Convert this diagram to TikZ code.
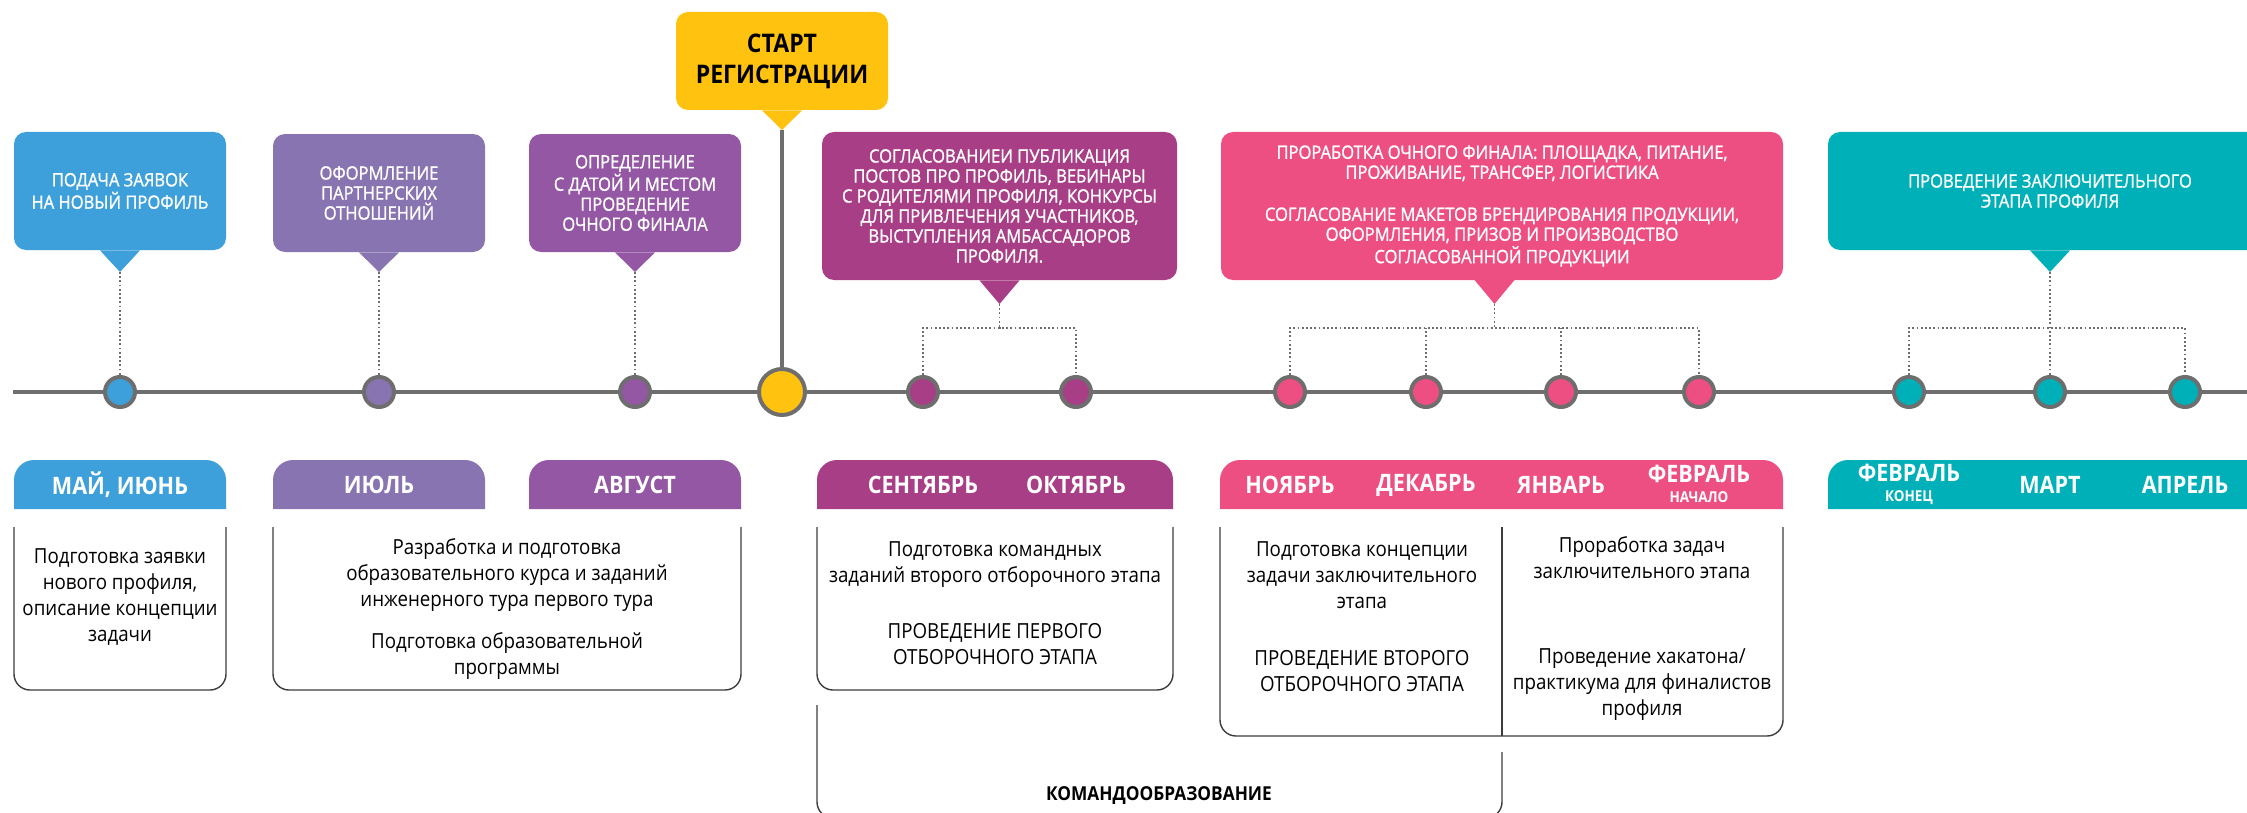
\documentclass[tikz,border=0pt]{standalone}
\usepackage{fontspec}
\setmainfont[FakeStretch=0.9]{Open Sans}
\newfontfamily\callfont[FakeStretch=0.9, FakeBold=1.2]{Open Sans}
\usepackage{tikz}
\usetikzlibrary{calc}
\usetikzlibrary{positioning}

\definecolor{tlgray}{RGB}{110,110,110}
\definecolor{bodyline}{RGB}{60,60,60}
\definecolor{cblue}{RGB}{62,160,219}
\definecolor{cpurple}{RGB}{136,116,176}
\definecolor{cviolet}{RGB}{147,87,163}
\definecolor{cmagenta}{RGB}{168,62,133}
\definecolor{cpink}{RGB}{238,79,130}
\definecolor{cteal}{RGB}{0,176,185}
\definecolor{cyellow}{RGB}{255,194,14}

\begin{document}
\begin{tikzpicture}[x=0.5pt, y=-0.5pt,
    every node/.style={inner sep=0pt},
    callbox/.style={fill=#1, rounded corners=6pt, text=white, align=center,
      font=\callfont\fontsize{9.2}{10}\selectfont},
    dot/.style={circle, fill=#1, draw=tlgray, line width=2pt, minimum size=15pt},
    link/.style={draw=tlgray, line width=0.9pt, dash pattern=on 0.9pt off 1.2pt},
    monthlabel/.style={text=white, align=center,
      font=\fontsize{12}{12}\bfseries\selectfont},
    body/.style={draw=bodyline, line width=0.7pt},
    bodytext/.style={align=center, font=\fontsize{10.4}{13}\selectfont}]

    \useasboundingbox (0,0) rectangle (2247,813);
    \clip (0,0) rectangle (2247,813);

    % timeline
    \coordinate (tlstart) at (13,392);
    \coordinate (tlend) at (2247,392);
    \draw [tlgray, line width=2pt] (tlstart) -- (tlend);

    % start of registration
    \node [callbox=cyellow, text=black, minimum width=106pt, minimum height=49pt,
      font=\fontsize{12.8}{15.5}\bfseries\selectfont]
      (start) at (782,61) {СТАРТ\\РЕГИСТРАЦИИ};
    \coordinate (starttip) at (782,130);
    \fill [cyellow] ($(start.south)+(-20,0)$) -- ($(start.south)+(20,0)$) -- (starttip) -- cycle;
    \node [dot=cyellow, minimum size=23pt] (dstart) at (782,392) {};
    \draw [tlgray, line width=2pt] (starttip) -- (dstart.north);

    % dots on the timeline
    \node [dot=cblue] (d1) at (120,392) {};
    \node [dot=cpurple] (d2) at (379,392) {};
    \node [dot=cviolet] (d3) at (635,392) {};
    \node [dot=cmagenta] (d5) at (923,392) {};
    \node [dot=cmagenta] (d6) at (1076,392) {};
    \node [dot=cpink] (d7) at (1290,392) {};
    \node [dot=cpink] (d8) at (1426,392) {};
    \node [dot=cpink] (d9) at (1561,392) {};
    \node [dot=cpink] (d10) at (1699,392) {};
    \node [dot=cteal] (d11) at (1909,392) {};
    \node [dot=cteal] (d12) at (2050,392) {};
    \node [dot=cteal] (d13) at (2185,392) {};

    % callouts above the line
    \node [callbox=cblue, minimum width=106pt, minimum height=59pt]
      (apply) at (120,191) {ПОДАЧА ЗАЯВОК\\НА НОВЫЙ ПРОФИЛЬ};
    \coordinate (applytip) at (120,272);
    \fill [cblue] ($(apply.south)+(-20,0)$) -- ($(apply.south)+(20,0)$) -- (applytip) -- cycle;
    \draw [link] (applytip) -- (d1.north);

    \node [callbox=cpurple, minimum width=106pt, minimum height=59pt]
      (partner) at (379,193) {ОФОРМЛЕНИЕ\\ПАРТНЕРСКИХ\\ОТНОШЕНИЙ};
    \coordinate (partnertip) at (379,272);
    \fill [cpurple] ($(partner.south)+(-20,0)$) -- ($(partner.south)+(20,0)$) -- (partnertip) -- cycle;
    \draw [link] (partnertip) -- (d2.north);

    \node [callbox=cviolet, minimum width=106pt, minimum height=59pt]
      (venue) at (635,193) {ОПРЕДЕЛЕНИЕ\\С ДАТОЙ И МЕСТОМ\\ПРОВЕДЕНИЕ\\ОЧНОГО ФИНАЛА};
    \coordinate (venuetip) at (635,272);
    \fill [cviolet] ($(venue.south)+(-20,0)$) -- ($(venue.south)+(20,0)$) -- (venuetip) -- cycle;
    \draw [link] (venuetip) -- (d3.north);

    \node [callbox=cmagenta, minimum width=177.5pt, minimum height=74pt]
      (promo) at (999.5,206) {СОГЛАСОВАНИЕИ ПУБЛИКАЦИЯ\\ПОСТОВ ПРО ПРОФИЛЬ, ВЕБИНАРЫ\\
      С РОДИТЕЛЯМИ ПРОФИЛЯ, КОНКУРСЫ\\ДЛЯ ПРИВЛЕЧЕНИЯ УЧАСТНИКОВ,\\
      ВЫСТУПЛЕНИЯ АМБАССАДОРОВ\\ПРОФИЛЯ.};
    \coordinate (promotip) at (999.5,304);
    \coordinate (promobar) at (999.5,328);
    \fill [cmagenta] ($(promo.south)+(-20,0)$) -- ($(promo.south)+(20,0)$) -- (promotip) -- cycle;
    \draw [link] (promotip) -- (promobar);
    \draw [link] (d5.north) |- (promobar) -| (d6.north);

    \node [callbox=cpink, minimum width=281pt, minimum height=74pt]
      (final) at (1502,206) {ПРОРАБОТКА ОЧНОГО ФИНАЛА: ПЛОЩАДКА, ПИТАНИЕ,\\
      ПРОЖИВАНИЕ, ТРАНСФЕР, ЛОГИСТИКА\\[11pt]
      СОГЛАСОВАНИЕ МАКЕТОВ БРЕНДИРОВАНИЯ ПРОДУКЦИИ,\\
      ОФОРМЛЕНИЯ, ПРИЗОВ И ПРОИЗВОДСТВО\\СОГЛАСОВАННОЙ ПРОДУКЦИИ};
    \coordinate (finaltip) at (1494.5,304);
    \coordinate (finalbar) at (1494.5,328);
    \fill [cpink] ($(finaltip)+(-20,-24)$) -- ($(finaltip)+(20,-24)$) -- (finaltip) -- cycle;
    \draw [link] (finaltip) -- (finalbar);
    \draw [link] (d7.north) |- (finalbar) -| (d10.north);
    \draw [link] (d8.north) -- (d8 |- finalbar);
    \draw [link] (d9.north) -- (d9 |- finalbar);

    \node [callbox=cteal, minimum width=222pt, minimum height=59pt]
      (closing) at (2050,191) {ПРОВЕДЕНИЕ ЗАКЛЮЧИТЕЛЬНОГО\\ЭТАПА ПРОФИЛЯ};
    \coordinate (closingtip) at (2050,272);
    \coordinate (closingbar) at (2050,328);
    \fill [cteal] ($(closing.south)+(-20,0)$) -- ($(closing.south)+(20,0)$) -- (closingtip) -- cycle;
    \draw [link] (closingtip) -- (d12.north);
    \draw [link] (d11.north) |- (closingbar) -| (d13.north);

    % month tabs
    \fill [cblue] (14,509) [rounded corners=10pt] -- (14,460) -- (226,460) [sharp corners] -- (226,509) -- cycle;
    \fill [cpurple] (273,509) [rounded corners=10pt] -- (273,460) -- (485,460) [sharp corners] -- (485,509) -- cycle;
    \fill [cviolet] (529,509) [rounded corners=10pt] -- (529,460) -- (741,460) [sharp corners] -- (741,509) -- cycle;
    \fill [cmagenta] (817,509) [rounded corners=10pt] -- (817,460) -- (1173,460) [sharp corners] -- (1173,509) -- cycle;
    \fill [cpink] (1220,509) [rounded corners=10pt] -- (1220,460) -- (1783,460) [sharp corners] -- (1783,509) -- cycle;
    \fill [cteal] (1828,509) [rounded corners=10pt] -- (1828,460) -- (2272,460) [sharp corners] -- (2272,509) -- cycle;

    \node [monthlabel] (mayjun) at (120,485) {МАЙ, ИЮНЬ};
    \node [monthlabel] (jul) at (379,485) {ИЮЛЬ};
    \node [monthlabel] (aug) at (635,485) {АВГУСТ};
    \node [monthlabel] (sep) at (923,485) {СЕНТЯБРЬ};
    \node [monthlabel] (oct) at (1076,485) {ОКТЯБРЬ};
    \node [monthlabel] (nov) at (1290,485) {НОЯБРЬ};
    \node [monthlabel] (dec) at (1426,485) {ДЕКАБРЬ};
    \node [monthlabel] (jan) at (1561,485) {ЯНВАРЬ};
    \node [monthlabel] (febstart) at (1699,484)
      {ФЕВРАЛЬ\\[-2pt]{\fontsize{7.5}{8}\selectfont НАЧАЛО}};
    \node [monthlabel] (febend) at (1909,484)
      {ФЕВРАЛЬ\\[-2pt]{\fontsize{7.5}{8}\selectfont КОНЕЦ}};
    \node [monthlabel] (mar) at (2050,485) {МАРТ};
    \node [monthlabel] (apr) at (2185,485) {АПРЕЛЬ};

    % task boxes below the tabs
    \draw [body] (14,527) [rounded corners=8pt] -- (14,690) -- (226,690) [sharp corners] -- (226,527);
    \draw [body] (273,527) [rounded corners=8pt] -- (273,690) -- (741,690) [sharp corners] -- (741,527);
    \draw [body] (817,527) [rounded corners=8pt] -- (817,690) -- (1173,690) [sharp corners] -- (1173,527);
    \draw [body] (1220,527) [rounded corners=8pt] -- (1220,736) -- (1783,736) [sharp corners] -- (1783,527);
    \draw [body] (1502,527) -- (1502,736);

    \node [bodytext] (apptask) at (120,597)
      {Подготовка заявки\\нового профиля,\\описание концепции\\задачи};
    \node [bodytext] (coursetask) at (507,609)
      {Разработка и подготовка\\образовательного курса и заданий\\инженерного тура первого тура\\[8pt]
      Подготовка образовательной\\программы};
    \node [bodytext] (teamtask) at (995,603)
      {Подготовка командных\\заданий второго отборочного этапа\\[15pt]
      ПРОВЕДЕНИЕ ПЕРВОГО\\ОТБОРОЧНОГО ЭТАПА};
    \node [bodytext] (concepttask) at (1362,617)
      {Подготовка концепции\\задачи заключительного\\этапа\\[15.5pt]
      ПРОВЕДЕНИЕ ВТОРОГО\\ОТБОРОЧНОГО ЭТАПА};
    \node [bodytext] (hacktask) at (1642,629)
      {Проработка задач\\заключительного этапа\\[29.5pt]
      Проведение хакатона/\\практикума для финалистов\\профиля};

    % team building bracket
    \draw [body] (817,705) [rounded corners=8pt] -- (817,818) -- (1502,818) [sharp corners] -- (1502,752);
    \node [font=\fontsize{9.6}{9.6}\bfseries\selectfont] (teambuild) at (1159,796) {КОМАНДООБРАЗОВАНИЕ};

  \end{tikzpicture}
\end{document}
